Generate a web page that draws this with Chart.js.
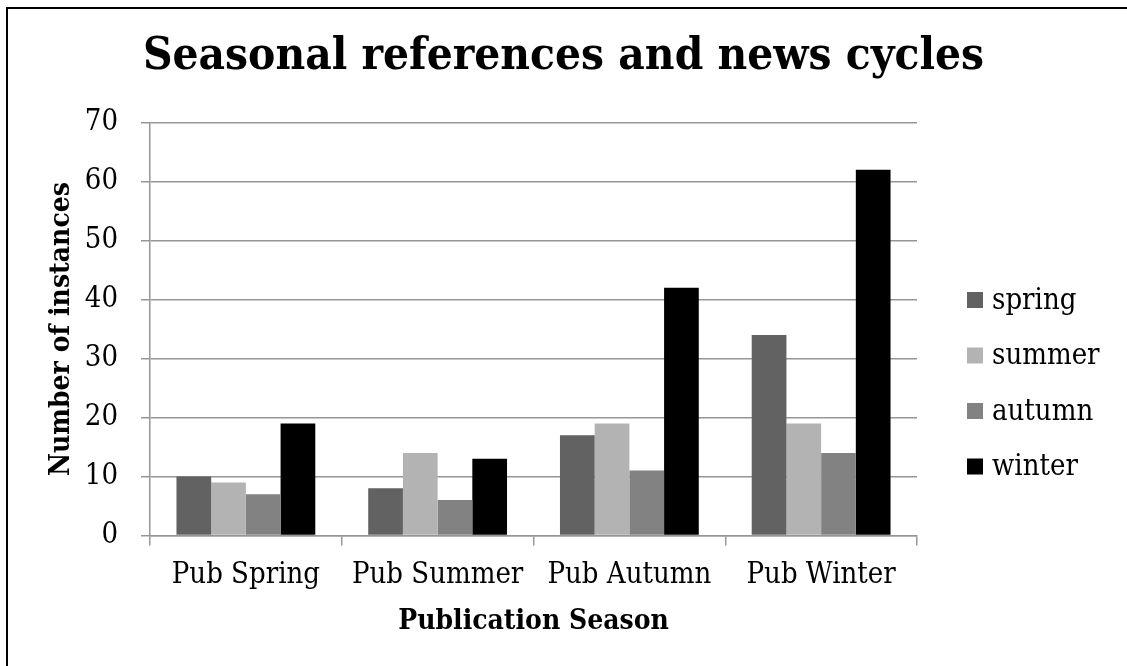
<!DOCTYPE html>
<html>
<head>
<meta charset="utf-8">
<script src="https://cdn.jsdelivr.net/npm/chart.js@4"></script>
<style>
  html, body { margin: 0; padding: 0; background: #fff; }
  #wrap { width: 1127px; height: 666px; position: relative; }
</style>
</head>
<body>
<div id="wrap"><canvas id="c" width="1127" height="666"></canvas></div>
<script>
// Categories and series
const categories = ['Pub Spring', 'Pub Summer', 'Pub Autumn', 'Pub Winter'];
const seriesNames = ['spring', 'summer', 'autumn', 'winter'];
const springValues = [10, 8, 17, 34];
const summerValues = [9, 14, 19, 19];
const autumnValues = [7, 6, 11, 14];
const winterValues = [19, 13, 42, 62];
const yTicks = [0, 10, 20, 30, 40, 50, 60, 70];

const seriesColors = ['#626262', '#b3b3b3', '#828282', '#000000'];
const FAMILY = "'DejaVu Serif Condensed', 'DejaVu Serif', serif";

// Page background and the frame line along the top and left edges
const framePlugin = {
  id: 'frame',
  beforeDraw(chart) {
    const ctx = chart.ctx;
    ctx.save();
    ctx.fillStyle = '#fff';
    ctx.fillRect(0, 0, chart.width, chart.height);
    ctx.strokeStyle = '#000';
    ctx.lineWidth = 2;
    ctx.beginPath();
    ctx.moveTo(7, chart.height);
    ctx.lineTo(7, 8);
    ctx.lineTo(chart.width, 8);
    ctx.stroke();
    ctx.restore();
  }
};

// Legend stacked on the right: square swatch then series name
const sideLegend = {
  id: 'sideLegend',
  afterDraw(chart, args, opts) {
    const ctx = chart.ctx;
    ctx.save();
    ctx.font = opts.font;
    ctx.textBaseline = 'middle';
    ctx.textAlign = 'left';
    chart.data.datasets.forEach((ds, i) => {
      const cy = opts.top + i * opts.spacing;
      ctx.fillStyle = ds.backgroundColor;
      ctx.fillRect(opts.x, cy - opts.box / 2, opts.box, opts.box);
      ctx.fillStyle = '#000';
      ctx.fillText(ds.label, opts.x + opts.box + opts.gap, cy + 1);
    });
    ctx.restore();
  }
};

const valueSets = [springValues, summerValues, autumnValues, winterValues];

new Chart(document.getElementById('c'), {
  type: 'bar',
  data: {
    labels: categories,
    datasets: seriesNames.map((name, i) => ({
      label: name,
      data: valueSets[i],
      backgroundColor: seriesColors[i],
      borderWidth: 0,
      categoryPercentage: 0.724,
      barPercentage: 1.0
    }))
  },
  options: {
    responsive: false,
    animation: false,
    devicePixelRatio: 1,
    layout: { padding: 0 },
    plugins: {
      legend: { display: false },
      tooltip: { enabled: false },
      title: {
        display: true,
        text: 'Seasonal references and news cycles',
        color: '#000',
        font: { family: FAMILY, size: 45.5, weight: 'bold', lineHeight: 1.2 },
        padding: { top: 30, bottom: 38 }
      },
      sideLegend: {
        x: 967, top: 300, spacing: 55.5, box: 16, gap: 9,
        font: "29px " + FAMILY
      }
    },
    scales: {
      x: {
        grid: {
          display: true,
          offset: true,
          drawOnChartArea: false,
          drawTicks: true,
          tickLength: 10,
          color: '#969696',
          lineWidth: 1.5
        },
        border: { display: true, color: '#969696', width: 1.5 },
        ticks: {
          color: '#000',
          padding: 13,
          font: { family: FAMILY, size: 29 }
        },
        title: {
          display: true,
          text: 'Publication Season',
          color: '#000',
          font: { family: FAMILY, size: 28, weight: 'bold', lineHeight: 1.2 },
          padding: { top: 0, bottom: 27 }
        },
        afterFit(scale) { scale.height = 130.5; }
      },
      y: {
        min: 0,
        max: 70,
        afterBuildTicks(scale) { scale.ticks = yTicks.map(v => ({ value: v })); },
        grid: {
          color: '#969696',
          lineWidth: 1.5,
          drawTicks: true,
          tickLength: 9
        },
        border: { display: true, color: '#969696', width: 1.5 },
        ticks: {
          color: '#000',
          padding: 23,
          font: { family: FAMILY, size: 29 }
        },
        title: {
          display: true,
          text: 'Number of instances',
          color: '#000',
          font: { family: FAMILY, size: 28, weight: 'bold', lineHeight: 1.2 },
          padding: { top: 45, bottom: 0 }
        },
        afterFit(scale) { scale.width = 150; }
      },
      // empty right-hand axis that keeps the legend column clear
      yLegendSpace: {
        position: 'right',
        display: true,
        grid: { display: false },
        border: { display: false },
        ticks: { display: false },
        afterFit(scale) { scale.width = 210; }
      }
    }
  },
  plugins: [framePlugin, sideLegend]
});
</script>
</body>
</html>
